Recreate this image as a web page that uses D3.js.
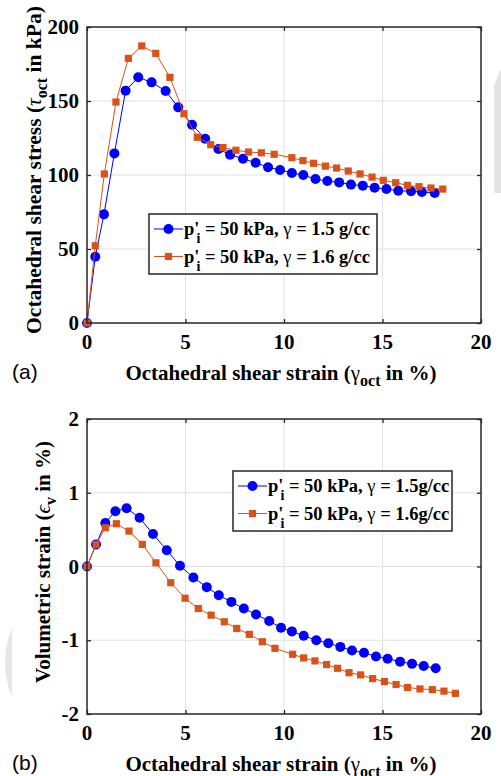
<!DOCTYPE html>
<html>
<head>
<meta charset="utf-8">
<script src="https://cdn.jsdelivr.net/npm/d3@7"></script>
<style>
  html, body { margin: 0; padding: 0; background: #fff; }
  svg { display: block; }
</style>
</head>
<body>
<svg id="fig" width="501" height="776"></svg>
<script>
// ---- data: (a) octahedral shear stress vs strain ----
var strainA15 = [0, 0.42, 0.86, 1.39, 1.96, 2.6, 3.28, 3.99, 4.63, 5.33, 6.0, 6.67, 7.26, 7.92, 8.56, 9.19, 9.8, 10.4, 10.98, 11.6, 12.2, 12.8, 13.4, 14.0, 14.6, 15.2, 15.8, 16.45, 17.0, 17.65];
var stressA15 = [0, 44.8, 73.4, 114.6, 157, 166, 162.6, 156.8, 145.7, 134, 124.5, 117.6, 113.7, 111, 108.3, 105.2, 103.4, 101.4, 100, 97.3, 95.9, 95, 93.5, 92.8, 91.4, 90.5, 89.4, 89, 88.5, 87.8];
var strainA16 = [0, 0.42, 0.88, 1.47, 2.1, 2.78, 3.49, 4.21, 4.92, 5.6, 6.28, 6.9, 7.56, 8.2, 8.85, 9.5, 10.4, 10.96, 11.5, 12.1, 12.67, 13.26, 13.86, 14.47, 15.04, 15.67, 16.26, 16.85, 17.46, 18.06];
var stressA16 = [0, 52.2, 100.7, 149.3, 178.8, 187.2, 182.2, 166, 141.4, 125.5, 120.5, 118.5, 116.7, 115.5, 115, 114, 111.7, 109.7, 107.9, 106, 104.7, 102.7, 100.7, 98.6, 96.4, 94.8, 93, 92.1, 91.2, 90.5];

// ---- data: (b) volumetric strain vs octahedral shear strain ----
var strainB15 = [0, 0.46, 0.93, 1.44, 2.01, 2.67, 3.35, 4.05, 4.72, 5.4, 6.08, 6.69, 7.33, 7.96, 8.58, 9.25, 9.85, 10.4, 11.0, 11.64, 12.25, 12.86, 13.45, 14.06, 14.67, 15.26, 15.89, 16.5, 17.09, 17.7];
var volB15 = [0, 0.30, 0.59, 0.75, 0.79, 0.66, 0.44, 0.22, 0.01, -0.15, -0.28, -0.39, -0.48, -0.57, -0.65, -0.74, -0.83, -0.88, -0.94, -1.0, -1.04, -1.09, -1.14, -1.17, -1.22, -1.25, -1.29, -1.32, -1.35, -1.38];
var strainB16 = [0, 0.46, 0.93, 1.49, 2.13, 2.81, 3.5, 4.25, 4.98, 5.65, 6.3, 6.97, 7.6, 8.24, 8.9, 9.54, 10.44, 11.0, 11.57, 12.16, 12.72, 13.3, 13.89, 14.5, 15.1, 15.69, 16.27, 16.9, 17.53, 18.12, 18.7];
var volB16 = [0, 0.30, 0.525, 0.58, 0.48, 0.30, 0.05, -0.22, -0.43, -0.57, -0.66, -0.75, -0.84, -0.92, -1.02, -1.11, -1.19, -1.24, -1.28, -1.33, -1.38, -1.44, -1.47, -1.52, -1.56, -1.6, -1.64, -1.66, -1.67, -1.69, -1.72];

var xTicks = [0, 5, 10, 15, 20];
var yTicksA = [0, 50, 100, 150, 200];
var yTicksB = [-2, -1, 0, 1, 2];
var legendA = ["1.5 g/cc", "1.6 g/cc"];
var legendB = ["1.5g/cc", "1.6g/cc"];

var BLUE = "#0000ff", ORANGE = "#d95319", FRAME = "#262626", GRID = "#e1e1e1";
var SERIF = "Liberation Serif";
var SANS = "Liberation Sans";
var svg = d3.select("#fig");
svg.append("rect").attr("width", 501).attr("height", 776).attr("fill", "#fff");

// faint page artefacts seen in the scan
svg.append("path").attr("d", "M500,70 L494,86 L494,193 L501,193 L501,70 Z").attr("fill", "#e4e4e4");
svg.append("path").attr("d", "M12,628 Q-2,662 12,697 Z").attr("fill", "#e6e6e6");

function zip(xs, ys) { return xs.map(function (x, i) { return [x, ys[i]]; }); }
function serifText(sel, size) {
  return sel.append("text").attr("font-family", SERIF).attr("font-weight", "bold").attr("font-size", size).attr("fill", "#000");
}

function panel(o) {
  var x = d3.scaleLinear().domain([0, 20]).range([o.left, o.right]);
  var y = d3.scaleLinear().domain(o.yDomain).range([o.bottom, o.top]);
  var g = svg.append("g");

  // grid
  g.selectAll(".gx").data(xTicks.slice(1, -1)).enter().append("line")
    .attr("x1", x).attr("x2", x).attr("y1", o.top).attr("y2", o.bottom).attr("stroke", GRID).attr("stroke-width", 1);
  g.selectAll(".gy").data(o.yTicks.slice(1, -1)).enter().append("line")
    .attr("y1", y).attr("y2", y).attr("x1", o.left).attr("x2", o.right).attr("stroke", GRID).attr("stroke-width", 1);

  // ticks (inside, all four sides)
  var tl = 4;
  var ax = [
    d3.axisBottom(x).tickValues(xTicks).tickSizeInner(-tl).tickSizeOuter(0).tickFormat(""),
    d3.axisTop(x).tickValues(xTicks).tickSizeInner(-tl).tickSizeOuter(0).tickFormat(""),
    d3.axisLeft(y).tickValues(o.yTicks).tickSizeInner(-tl).tickSizeOuter(0).tickFormat(""),
    d3.axisRight(y).tickValues(o.yTicks).tickSizeInner(-tl).tickSizeOuter(0).tickFormat("")
  ];
  var tr = ["translate(0," + o.bottom + ")", "translate(0," + o.top + ")", "translate(" + o.left + ",0)", "translate(" + o.right + ",0)"];
  ax.forEach(function (a, i) {
    var ag = g.append("g").attr("transform", tr[i]).call(a);
    ag.select(".domain").remove();
    ag.selectAll("line").attr("stroke", FRAME).attr("stroke-width", 1.3);
  });

  // series
  o.series.forEach(function (s) {
    var pts = zip(s.x, s.y);
    g.append("path").datum(pts)
      .attr("d", d3.line().x(function (d) { return x(d[0]); }).y(function (d) { return y(d[1]); }))
      .attr("fill", "none").attr("stroke", s.color).attr("stroke-width", 1);
    if (s.shape === "circle") {
      g.selectAll(null).data(pts).enter().append("circle")
        .attr("cx", function (d) { return x(d[0]); }).attr("cy", function (d) { return y(d[1]); })
        .attr("r", 5).attr("fill", s.color);
    } else {
      g.selectAll(null).data(pts).enter().append("rect")
        .attr("x", function (d) { return x(d[0]) - 3.6; }).attr("y", function (d) { return y(d[1]) - 3.6; })
        .attr("width", 7.2).attr("height", 7.2).attr("fill", s.color);
    }
  });

  // frame
  g.append("rect").attr("x", o.left).attr("y", o.top).attr("width", o.right - o.left).attr("height", o.bottom - o.top)
    .attr("fill", "none").attr("stroke", FRAME).attr("stroke-width", 1.5);

  // tick labels
  xTicks.forEach(function (v) {
    serifText(g, 21).attr("x", x(v)).attr("y", o.bottom + 26).attr("text-anchor", "middle").text(v);
  });
  o.yTicks.forEach(function (v) {
    serifText(g, 21).attr("x", o.left - 8).attr("y", y(v) + 7).attr("text-anchor", "end").text(v);
  });

  // x label
  var xl = serifText(g, 21).attr("x", (o.left + o.right) / 2 - 3).attr("y", o.xLabelY).attr("text-anchor", "middle");
  xl.append("tspan").text("Octahedral shear strain (");
  xl.append("tspan").attr("font-weight", "normal").text("γ");
  xl.append("tspan").attr("dy", 6).attr("font-size", 16).text("oct");
  xl.append("tspan").attr("dy", -6).text(" in %)");

  // y label
  var yl = serifText(g, o.yLabelSize).attr("text-anchor", "middle")
    .attr("transform", "translate(" + o.yLabelX + "," + o.yLabelMid + ") rotate(-90)");
  yl.append("tspan").text(o.yLabel[0]);
  yl.append("tspan").attr("font-weight", "normal").attr("font-style", "italic").text(o.yLabel[1]);
  yl.append("tspan").attr("dy", 6).attr("font-size", 16).text(o.yLabel[2]);
  yl.append("tspan").attr("dy", -6).text(o.yLabel[3]);

  // panel letter
  g.append("text").attr("font-family", SANS).attr("font-size", 21).attr("fill", "#000")
    .attr("x", 12).attr("y", o.xLabelY - 1).text(o.letter);

  // legend
  var L = o.legend;
  g.append("rect").attr("x", L.x).attr("y", L.y).attr("width", L.w).attr("height", L.h)
    .attr("fill", "#fff").attr("stroke", FRAME).attr("stroke-width", 1.5);
  o.series.forEach(function (s, i) {
    var cy = L.y + 15 + i * 27.5;
    var lx0 = L.x + 5, lx1 = L.x + 34, mx = (lx0 + lx1) / 2;
    g.append("line").attr("x1", lx0).attr("x2", lx1).attr("y1", cy).attr("y2", cy).attr("stroke", s.color).attr("stroke-width", 1);
    if (s.shape === "circle") g.append("circle").attr("cx", mx).attr("cy", cy).attr("r", 5).attr("fill", s.color);
    else g.append("rect").attr("x", mx - 3.6).attr("y", cy - 3.6).attr("width", 7.2).attr("height", 7.2).attr("fill", s.color);
    var t = serifText(g, 18.5).attr("x", lx1 + 1).attr("y", cy + 6);
    t.append("tspan").text("p'");
    t.append("tspan").attr("dy", 8).attr("dx", -3).attr("font-size", 14).text("i");
    t.append("tspan").attr("dy", -8).text(" = 50 kPa, ");
    t.append("tspan").attr("font-weight", "normal").text("γ");
    t.append("tspan").text(" = " + L.labels[i]);
  });
}

panel({
  left: 87, right: 481, top: 27, bottom: 323, yDomain: [0, 200], yTicks: yTicksA,
  xLabelY: 380, yLabelX: 41, yLabelMid: 170, yLabelSize: 21.5, letter: "(a)",
  yLabel: ["Octahedral shear stress (", "τ", "oct", " in kPa)"],
  legend: { x: 149, y: 214, w: 228, h: 60, labels: legendA },
  series: [
    { x: strainA15, y: stressA15, color: BLUE, shape: "circle" },
    { x: strainA16, y: stressA16, color: ORANGE, shape: "square" }
  ]
});

panel({
  left: 87, right: 481, top: 419, bottom: 714, yDomain: [-2, 2], yTicks: yTicksB,
  xLabelY: 771, yLabelX: 50, yLabelMid: 562, yLabelSize: 21, letter: "(b)",
  yLabel: ["Volumetric strain (", "ϵ", "v", " in %)"],
  legend: { x: 233, y: 471, w: 219, h: 60, labels: legendB },
  series: [
    { x: strainB15, y: volB15, color: BLUE, shape: "circle" },
    { x: strainB16, y: volB16, color: ORANGE, shape: "square" }
  ]
});
</script>
</body>
</html>
